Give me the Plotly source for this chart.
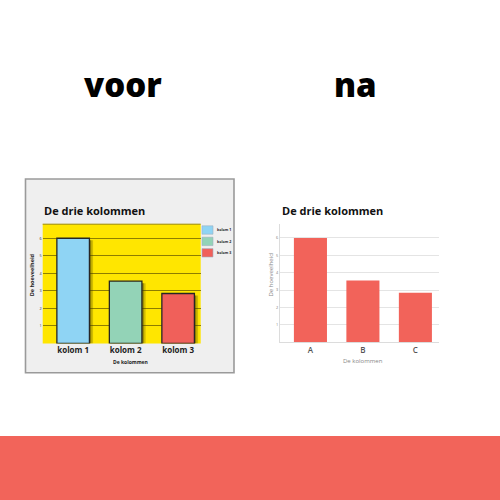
import plotly.graph_objects as go

# ---- data ----
left_categories = ["kolom 1", "kolom 2", "kolom 3"]
right_categories = ["A", "B", "C"]
values = [6.0, 3.55, 2.85]
left_colors = ["#8fd4f4", "#93d3b7", "#f0605a"]
right_color = "#f2635a"
y_ticks = [1, 2, 3, 4, 5, 6]

title_text = "De drie kolommen"
x_title = "De kolommen"
y_title = "De hoeveelheid"
heading_left = "voor"
heading_right = "na"

W = H = 500
FONT = "Open Sans, Noto Sans, DejaVu Sans, sans-serif"


def px(x):
    return x / W


def py(y):
    return 1 - y / H


def label(text, x, y, size, color, weight=400, xanchor="center", angle=0):
    return dict(text=text, x=px(x), y=py(y), xref="paper", yref="paper",
                xanchor=xanchor, yanchor="middle", textangle=angle,
                showarrow=False,
                font=dict(family=FONT, size=size, color=color, weight=weight))


fig = go.Figure()

# shadows for the "voor" bars (derived from the same values)
shadow_vals = [v - 0.12 for v in values]
for off, op in [(0.035, 0.45), (0.07, 0.25)]:
    fig.add_trace(go.Bar(
        x=left_categories, y=shadow_vals, xaxis="x", yaxis="y",
        width=0.62, offset=-0.31 + off,
        marker=dict(color="rgba(70,60,0,1)", line=dict(width=0)),
        opacity=op, showlegend=False, hoverinfo="skip"))

fig.add_trace(go.Bar(
    x=left_categories, y=values, xaxis="x", yaxis="y",
    width=0.62, offset=-0.31,
    marker=dict(color=left_colors, line=dict(color="#262626", width=1.3)),
    showlegend=False))

fig.add_trace(go.Bar(
    x=right_categories, y=values, xaxis="x2", yaxis="y2",
    width=0.63, offset=-0.315,
    marker=dict(color=right_color, line=dict(width=0)),
    showlegend=False))

shapes = [
    # grey panel behind the "voor" chart
    dict(type="rect", xref="paper", yref="paper",
         x0=px(25.5), x1=px(234), y0=py(372.7), y1=py(179),
         fillcolor="#efefef", line=dict(color="#9a9a9a", width=1.6), layer="below"),
    # yellow plot area
    dict(type="rect", xref="x domain", yref="y domain", x0=0, x1=1, y0=0, y1=1,
         fillcolor="#ffe600", line=dict(width=0), layer="below"),
    dict(type="line", xref="x domain", yref="y domain", x0=0, x1=1, y0=1, y1=1,
         line=dict(color="#9c8a00", width=1), layer="below"),
    # coral band at the bottom
    dict(type="rect", xref="paper", yref="paper", x0=0, x1=1, y0=0, y1=py(436),
         fillcolor="#f2645a", line=dict(width=0), layer="below"),
]

annotations = [
    label(heading_left, 123, 84, 33, "#000", 800),
    label(heading_right, 355.5, 84, 33, "#000", 800),
    label(title_text, 42, 210.5, 11, "#111", 700, xanchor="left"),
    label(title_text, 280, 210.5, 11, "#111", 700, xanchor="left"),
    label(y_title, 32.3, 275, 5.5, "#222", 700, angle=-90),
    label(y_title, 270, 274.5, 6, "#888", angle=-90),
    label(x_title, 130.7, 362.3, 5, "#222", 700),
    label(x_title, 363.3, 361, 6, "#888"),
]

# key for the "voor" chart
for i, (name, col) in enumerate(zip(left_categories, left_colors)):
    yc = 230 + 11.4 * i
    shapes.append(dict(type="rect", xref="paper", yref="paper",
                       x0=px(202), x1=px(213), y0=py(yc + 4.2), y1=py(yc - 4.2),
                       fillcolor=col, line=dict(color="#9fb0c0", width=0.6)))
    annotations.append(label(name, 214.5, yc, 3.6, "#222", 700, xanchor="left"))

fig.update_layout(
    width=W, height=H, autosize=False,
    margin=dict(l=0, r=0, t=0, b=0),
    paper_bgcolor="white", plot_bgcolor="rgba(0,0,0,0)",
    barmode="overlay", showlegend=False,
    font=dict(family=FONT),
    shapes=shapes, annotations=annotations,
    xaxis=dict(domain=[px(42.7), px(200.7)], range=[-0.58, 2.43], anchor="y",
               showgrid=False, zeroline=False, showline=False, ticks="",
               tickfont=dict(family=FONT, size=8, color="#222", weight=700),
               fixedrange=True),
    yaxis=dict(domain=[py(343.5), py(224.2)], range=[0, 6.8], anchor="x",
               tickvals=y_ticks, showgrid=True, gridcolor="#8f7f00", gridwidth=1,
               zeroline=False, showline=False, ticks="",
               tickfont=dict(family=FONT, size=3.8, color="#333"), fixedrange=True),
    xaxis2=dict(domain=[px(280), px(439)], range=[-0.58, 2.45], anchor="y2",
                showgrid=False, zeroline=False, showline=True, linecolor="#dcdcdc",
                linewidth=1, ticks="",
                tickfont=dict(family=FONT, size=8, color="#555", weight=600),
                fixedrange=True),
    yaxis2=dict(domain=[py(342.3), py(224)], range=[0, 6.8], anchor="x2",
                tickvals=y_ticks, showgrid=True, gridcolor="#e4e4e4", gridwidth=1,
                zeroline=False, showline=True, linecolor="#dcdcdc", linewidth=1,
                ticks="", tickfont=dict(family=FONT, size=3.8, color="#777"),
                fixedrange=True),
)

fig.write_html(
    "out.html",
    config={"displayModeBar": False},
    post_script="document.body.style.margin='0';document.body.style.overflow='hidden';",
)
